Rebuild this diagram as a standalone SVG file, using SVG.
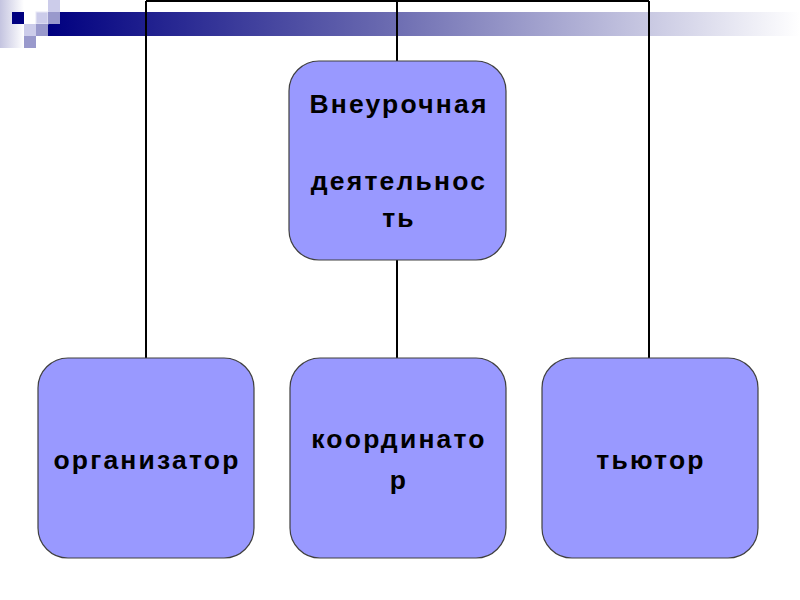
<svg xmlns="http://www.w3.org/2000/svg" width="800" height="600" viewBox="0 0 800 600">
<defs>
<linearGradient id="bar" x1="48" y1="0" x2="800" y2="0" gradientUnits="userSpaceOnUse">
<stop offset="0" stop-color="#000080"/>
<stop offset="0.45" stop-color="#6a6ab0"/>
<stop offset="1" stop-color="#ffffff"/>
</linearGradient>
<linearGradient id="side" x1="0" y1="0" x2="1" y2="0">
<stop offset="0" stop-color="#c4c4e0"/>
<stop offset="1" stop-color="#ffffff"/>
</linearGradient>
<style>
.box{fill:#9999ff;stroke:#404040;stroke-width:1.2}
.lbl{font-family:"Liberation Sans",Arial,sans-serif;font-weight:bold;font-size:26.5px;fill:#000;text-anchor:middle;letter-spacing:2.2px}
.con line{stroke:#000;stroke-width:2}
</style>
</defs>
<g id="decoration">
<rect x="0" y="0" width="24" height="48" fill="url(#side)"/>
<rect x="60" y="12" width="740" height="12" fill="url(#bar)"/>
<rect x="48" y="24" width="752" height="12" fill="url(#bar)"/>
<rect x="12" y="12" width="12" height="12" fill="#000080"/>
<rect x="48" y="0" width="12" height="12" fill="#ccccea"/>
<rect x="36" y="12" width="12" height="12" fill="#ccccea" stroke="#e8e8f6" stroke-width="1"/>
<rect x="48" y="12" width="12" height="12" fill="#9999cc"/>
<rect x="24" y="24" width="12" height="12" fill="#ccccea"/>
<rect x="36" y="24" width="12" height="12" fill="#9999cc"/>
<rect x="24" y="36" width="12" height="12" fill="#9999cc"/>
</g>
<g id="connectors" class="con">
<line x1="146" y1="1" x2="649" y2="1"/>
<line x1="146" y1="1" x2="146" y2="358"/>
<line x1="397" y1="1" x2="397" y2="62"/>
<line x1="397" y1="260" x2="397" y2="359"/>
<line x1="649" y1="1" x2="649" y2="358"/>
</g>
<g id="node-main">
<rect class="box" x="289" y="61" width="217" height="199" rx="30"/>
<text class="lbl" x="399" y="113">Внеурочная</text>
<text class="lbl" x="399" y="190">деятельнос</text>
<text class="lbl" x="399" y="227">ть</text>
</g>
<g id="node-organizer">
<rect class="box" x="38" y="358" width="216" height="200" rx="30"/>
<text class="lbl" x="147" y="469">организатор</text>
</g>
<g id="node-coordinator">
<rect class="box" x="290" y="358" width="216" height="200" rx="30"/>
<text class="lbl" x="399" y="448">координато</text>
<text class="lbl" x="399" y="489">р</text>
</g>
<g id="node-tutor">
<rect class="box" x="542" y="358" width="216" height="200" rx="30"/>
<text class="lbl" x="651" y="469">тьютор</text>
</g>
</svg>
